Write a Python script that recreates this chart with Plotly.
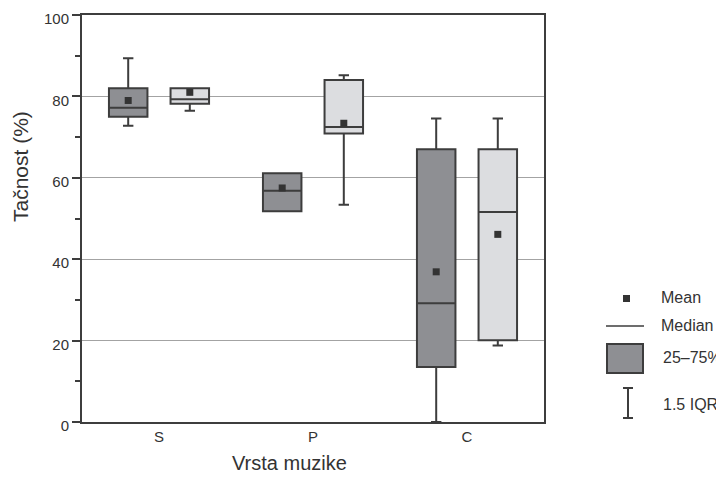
import plotly.graph_objects as go

categories = ["S", "P", "C"]

# Series 1 (dark)
dark_low = [72.8, 51.8, 0.0]
dark_q1 = [75.0, 51.8, 13.5]
dark_med = [77.2, 56.8, 29.2]
dark_q3 = [82.0, 61.1, 67.0]
dark_high = [89.4, 61.1, 74.6]
dark_mean = [79.0, 57.5, 36.9]

# Series 2 (light)
light_low = [76.5, 53.4, 18.8]
light_q1 = [78.2, 70.9, 20.1]
light_med = [79.3, 72.5, 51.6]
light_q3 = [82.0, 84.0, 67.0]
light_high = [82.0, 85.2, 74.6]
light_mean = [81.0, 73.4, 46.1]

y_ticks = [0, 20, 40, 60, 80, 100]

DARK_FILL = "#8e8f93"
LIGHT_FILL = "#dcdde0"
LINE = "#3d3d3d"
GRID = "#a3a3a3"
TEXT = "#333333"
FONT = "Liberation Sans, Arial, sans-serif"

# page has an 8px body margin; figure sized to fit inside the window
W, H = 716, 469
OFF = 8
PL, PR, PT, PB = 82, 544, 15, 422   # plot area in page pixels
L, R, T, B = PL - OFF, W - (PR - OFF), PT - OFF, H - (PB - OFF)
PW, PH = PR - PL, PB - PT

def px(x):
    return (x - PL) / PW

def py(y):
    return (PB - y) / PH

idx = list(range(len(categories)))
off = 0.2
bw = 0.25

fig = go.Figure()

def add_box(pos, low, q1, med, q3, high, fill):
    fig.add_trace(go.Box(
        x=pos, lowerfence=low, q1=q1, median=med, q3=q3, upperfence=high,
        width=bw, whiskerwidth=0.27, fillcolor=fill,
        line=dict(color=LINE, width=2), boxpoints=False, showlegend=False,
        hoverinfo="skip",
    ))

pos_d = [i - off for i in idx]
pos_l = [i + off for i in idx]
add_box(pos_d, dark_low, dark_q1, dark_med, dark_q3, dark_high, DARK_FILL)
add_box(pos_l, light_low, light_q1, light_med, light_q3, light_high, LIGHT_FILL)

fig.add_trace(go.Scatter(x=pos_d + pos_l, y=dark_mean + light_mean, mode="markers",
                         marker=dict(symbol="square", size=7, color=TEXT),
                         showlegend=False, hoverinfo="skip"))

# custom legend
shapes = []
shapes.append(dict(type="rect", xref="paper", yref="paper", x0=px(623), x1=px(630),
                   y0=py(302), y1=py(295), fillcolor=TEXT, line=dict(width=0)))
shapes.append(dict(type="line", xref="paper", yref="paper", x0=px(606), x1=px(644),
                   y0=py(326), y1=py(326), line=dict(color=LINE, width=1.5)))
shapes.append(dict(type="rect", xref="paper", yref="paper", x0=px(607), x1=px(643),
                   y0=py(373), y1=py(344), fillcolor=DARK_FILL, line=dict(color=LINE, width=2)))
shapes.append(dict(type="line", xref="paper", yref="paper", x0=px(628), x1=px(628),
                   y0=py(418), y1=py(388), line=dict(color=LINE, width=2)))
for yy in (388, 418):
    shapes.append(dict(type="line", xref="paper", yref="paper", x0=px(623), x1=px(633),
                       y0=py(yy), y1=py(yy), line=dict(color=LINE, width=2)))

annotations = []
for txt, xx, yy in [("Mean", 659, 298), ("Median", 659, 325), ("25–75%", 661, 357), ("1.5 IQR", 661, 404)]:
    annotations.append(dict(text=txt, xref="paper", yref="paper", x=px(xx), y=py(yy),
                            xanchor="left", yanchor="middle", showarrow=False,
                            font=dict(size=16, color=TEXT, family=FONT)))

# axis titles
annotations.append(dict(text="Vrsta muzike", xref="paper", yref="paper", x=px(289), y=py(476),
                        xanchor="center", yanchor="bottom", showarrow=False,
                        font=dict(size=20, color=TEXT, family=FONT)))
annotations.append(dict(text="Tačnost (%)", xref="paper", yref="paper", x=px(20), y=py(167),
                        xanchor="center", yanchor="middle", showarrow=False, textangle=-90,
                        font=dict(size=21, color=TEXT, family=FONT)))

fig.update_layout(
    width=W, height=H, margin=dict(l=L, r=R, t=T, b=B, autoexpand=False),
    paper_bgcolor="white", plot_bgcolor="white",
    font=dict(family=FONT, size=15, color=TEXT),
    shapes=shapes, annotations=annotations,
    xaxis=dict(range=[-0.5, 2.5], tickvals=idx, ticktext=categories, ticks="",
               showgrid=False, zeroline=False, showline=True, linecolor=LINE,
               linewidth=2, mirror=True, tickfont=dict(size=15), automargin=False),
    yaxis=dict(range=[0, 100], tickvals=y_ticks, ticks="outside", ticklen=8,
               tickwidth=2, tickcolor=LINE, showgrid=True, gridcolor=GRID,
               gridwidth=1, zeroline=False, showline=True, linecolor=LINE,
               linewidth=2, mirror=True, tickfont=dict(size=15), automargin=False,
               ticklabeloverflow="allow", ticklabelshift=4,
               minor=dict(dtick=10, ticks="outside", ticklen=5, tickwidth=2,
                          tickcolor=LINE, showgrid=False)),
)

fig.write_html("out.html")
